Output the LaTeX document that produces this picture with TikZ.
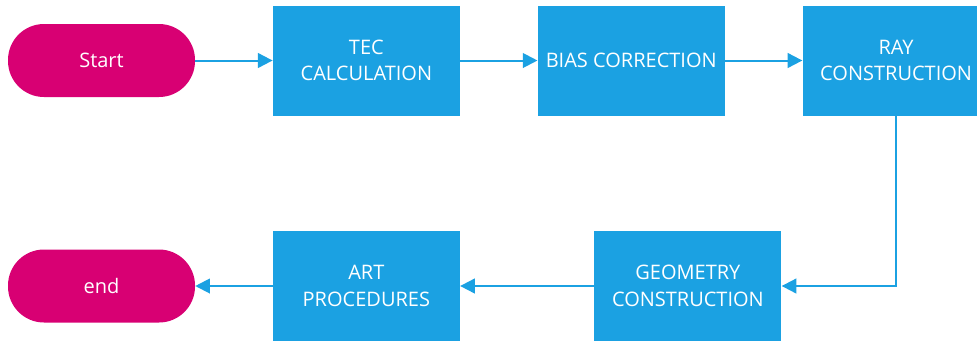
\documentclass[tikz,border=0pt]{standalone}
\usepackage{fontspec}
\setmainfont{Open Sans}
\usepackage{tikz}
\usetikzlibrary{positioning,arrows.meta}
\definecolor{metroblue}{HTML}{1BA1E2}
\definecolor{metromagenta}{HTML}{D80073}

\begin{document}
\begin{tikzpicture}[x=0.75pt, y=-0.75pt,
  step box/.style={fill=metroblue, draw=none, minimum width=140.25pt,
                   minimum height=82.5pt, inner sep=0pt,
                   font=\fontsize{15}{20}\selectfont, align=center, text=white},
  terminal/.style={fill=metromagenta, draw=none, rounded corners=27pt,
                   minimum width=140.25pt, minimum height=54.75pt, inner sep=0pt,
                   font=\fontsize{15}{20}\selectfont, text=white},
  arrow/.style={-{Triangle[length=11pt, width=11pt]}, line width=1.5pt, color=metroblue},
  node distance=58pt
]
\useasboundingbox (0,0) rectangle (977,340);

% top row, left to right
\node[terminal] (start) at (101.5,60.5) {Start};
\node[step box, right=of start] (tec) {TEC\\CALCULATION};
\node[step box, right=of tec] (bias) {BIAS CORRECTION};
\node[step box, right=of bias] (ray) {RAY\\CONSTRUCTION};

% bottom row, right to left
\node[terminal] (end) at (101.5,286) {end};
\node[step box, right=of end] (art) {ART\\PROCEDURES};
\node[step box, right=100.5pt of art] (geo) {GEOMETRY\\CONSTRUCTION};

\draw[arrow] (start) -- (tec);
\draw[arrow] (tec) -- (bias);
\draw[arrow] (bias) -- (ray);
\draw[arrow] (ray.south) |- (geo.east);
\draw[arrow] (geo) -- (art);
\draw[arrow] (art) -- (end);

\end{tikzpicture}
\end{document}
